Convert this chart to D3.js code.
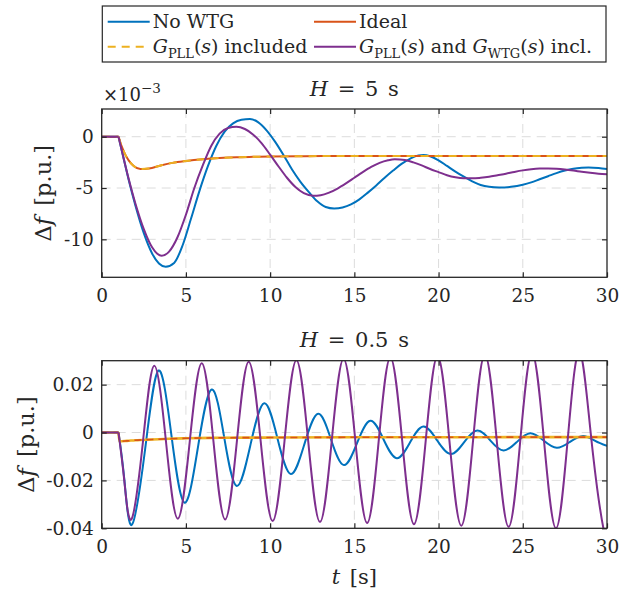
<!DOCTYPE html>
<html><head><meta charset="utf-8">
<script src="https://cdn.jsdelivr.net/npm/d3@7"></script>
<style>
body{margin:0;background:#fff}
svg text{font-family:"DejaVu Serif",serif !important;fill:#262626}
</style>
</head><body>
<svg id="c" width="619" height="593"></svg>
<script>
// ---------- data ----------
const xTicks = [0, 5, 10, 15, 20, 25, 30];
const topYTicks = [0, -5, -10];
const topYTickLabels = ["0", "-5", "-10"];
const botYTicks = [0.02, 0, -0.02, -0.04];
const botYTickLabels = ["0.02", "0", "-0.02", "-0.04"];

// top panel (H = 5 s), values in 1e-3 p.u.
const topNoWTG = [[0,0],[1,0],[1.3,-2.1],[1.6,-4.2],[2.0,-6.7],[2.5,-9.4],[3.0,-11.4],[3.4,-12.35],[3.8,-12.67],[4.3,-12.3],[4.8,-10.6],[5.3,-8.0],[5.8,-5.3],[6.3,-2.9],[6.8,-0.9],[7.3,0.5],[7.8,1.3],[8.3,1.65],[8.8,1.72],[9.3,1.4],[9.8,0.6],[10.3,-0.5],[10.8,-1.8],[11.3,-3.2],[11.8,-4.4],[12.3,-5.4],[12.8,-6.3],[13.3,-6.85],[13.8,-7.0],[14.3,-6.9],[14.8,-6.6],[15.3,-6.1],[15.8,-5.45],[16.3,-4.75],[16.8,-4.0],[17.3,-3.3],[17.8,-2.65],[18.3,-2.15],[18.8,-1.82],[19.1,-1.78],[19.5,-1.9],[20.0,-2.3],[20.5,-2.85],[21.0,-3.4],[21.5,-3.9],[22.0,-4.35],[22.5,-4.7],[23.0,-4.88],[23.6,-4.95],[24.3,-4.88],[25.0,-4.68],[25.5,-4.45],[26.0,-4.15],[26.5,-3.85],[27.0,-3.55],[27.5,-3.3],[28.0,-3.12],[28.5,-3.03],[28.9,-3.0],[29.5,-3.05],[30,-3.15]];
const topIdeal = [[0,0],[1,0],[1.2,-1.0],[1.4,-1.75],[1.6,-2.3],[1.9,-2.85],[2.3,-3.15],[2.8,-3.1],[3.5,-2.8],[4.2,-2.55],[5,-2.37],[6,-2.2],[7,-2.08],[8,-2.0],[9,-1.96],[10,-1.93],[12,-1.9],[15,-1.88],[20,-1.88],[25,-1.88],[30,-1.88]];
const topPLL = [[0,0],[1,0],[1.2,-1.0],[1.4,-1.75],[1.6,-2.3],[1.9,-2.85],[2.3,-3.15],[2.8,-3.1],[3.5,-2.8],[4.2,-2.55],[5,-2.37],[6,-2.2],[7,-2.08],[8,-2.0],[9,-1.96],[10,-1.93],[12,-1.9],[15,-1.88],[20,-1.88],[25,-1.88],[30,-1.88]];
const topPLLWTG = [[0,0],[1,0],[1.3,-2.1],[1.6,-4.1],[2.0,-6.5],[2.5,-9.0],[3.0,-10.8],[3.3,-11.4],[3.56,-11.6],[4.0,-11.2],[4.5,-9.8],[5.0,-7.6],[5.5,-5.0],[6.0,-2.8],[6.5,-0.9],[7.0,0.3],[7.5,0.85],[8.0,0.97],[8.5,0.75],[9.0,0.2],[9.5,-0.65],[10.0,-1.75],[10.5,-2.9],[11.0,-4.0],[11.5,-4.9],[12.0,-5.5],[12.55,-5.75],[13.0,-5.7],[13.5,-5.45],[14.0,-5.05],[14.5,-4.55],[15.0,-4.0],[15.5,-3.45],[16.0,-2.95],[16.5,-2.55],[17.0,-2.3],[17.4,-2.2],[18.0,-2.28],[18.5,-2.5],[19.0,-2.8],[19.5,-3.15],[20.0,-3.45],[20.5,-3.75],[21.0,-3.95],[21.5,-4.05],[22.0,-4.06],[22.5,-4.0],[23.0,-3.9],[23.5,-3.75],[24.0,-3.6],[24.5,-3.43],[25.0,-3.28],[25.5,-3.17],[26.0,-3.11],[26.5,-3.1],[27.0,-3.13],[27.5,-3.2],[28.0,-3.3],[28.5,-3.42],[29.0,-3.52],[29.5,-3.6],[30,-3.65]];

// bottom panel (H = 0.5 s), values in p.u.
const botNoWTG = [[0,0],[1,0],[1.35,-0.020],[1.8,-0.0385],[2.59,-0.0063],[3.38,0.0259],[4.15,-0.0017],[4.92,-0.0293],[5.725,-0.00565],[6.53,0.018],[7.275,-0.00215],[8.02,-0.0223],[8.835,-0.00505],[9.65,0.0122],[10.44,-0.00255],[11.23,-0.0173],[12.04,-0.00475],[12.85,0.0078],[13.615,-0.0029],[14.38,-0.0136],[15.165,-0.00435],[15.95,0.0049],[16.735,-0.0029],[17.52,-0.0107],[18.31,-0.0041],[19.1,0.0025],[19.91,-0.00325],[20.72,-0.009],[21.51,-0.0041],[22.3,0.0008],[23.08,-0.00335],[23.86,-0.0075],[24.655,-0.0039],[25.45,-0.0003],[26.235,-0.00335],[27.02,-0.0064],[27.8,-0.0039],[28.58,-0.0014],[29.3,-0.0035],[30,-0.0056]];
const botIdeal = [[0,0],[1,0],[1.05,-0.0037],[1.5,-0.0035],[2,-0.0032],[3,-0.0029],[4,-0.0026],[5,-0.0024],[7,-0.0022],[10,-0.0021],[15,-0.002],[20,-0.002],[25,-0.0019],[30,-0.0019]];
const botPLL = [[0,0],[1,0],[1.05,-0.0037],[1.5,-0.0035],[2,-0.0032],[3,-0.0029],[4,-0.0026],[5,-0.0024],[7,-0.0022],[10,-0.0021],[15,-0.002],[20,-0.002],[25,-0.0019],[30,-0.0019]];
const botPLLWTG = [[0,0],[1,0],[1.34,-0.020],[1.77,-0.0362],[2.445,-0.00415],[3.12,0.0279],[3.82,-0.00405],[4.52,-0.036],[5.23,-0.00355],[5.94,0.0289],[6.635,-0.0037],[7.33,-0.0363],[8.03,-0.00335],[8.73,0.0296],[9.44,-0.0037],[10.15,-0.037],[10.855,-0.0034],[11.56,0.0302],[12.26,-0.0036],[12.96,-0.0374],[13.66,-0.0033],[14.36,0.0308],[15.06,-0.0035],[15.76,-0.0378],[16.45,-0.0032],[17.14,0.0314],[17.84,-0.00345],[18.54,-0.0383],[19.24,-0.00315],[19.94,0.032],[20.645,-0.00345],[21.35,-0.0389],[22.05,-0.00315],[22.75,0.0326],[23.455,-0.0034],[24.16,-0.0394],[24.855,-0.0031],[25.55,0.0332],[26.26,-0.0034],[26.97,-0.04],[27.665,-0.0031],[28.36,0.0338],[29.08,-0.00335],[29.8,-0.0405],[30,-0.0398]];

// ---------- drawing ----------
const C = {blue:"#0072BD", red:"#D95319", yellow:"#EDB120", purple:"#7E2F8E", axis:"#262626", grid:"#dcdcdc"};
const FONT = '"DejaVu Serif", serif';
const svg = d3.select("#c");
const X0 = 101.7, X1 = 607;
const x = d3.scaleLinear().domain([0, 30]).range([X0, X1]);

function panel(id, top, bottom, ydom, yT, yL, series, oscCurve, titleParts, titleY, ylabX) {
  const y = d3.scaleLinear().domain(ydom).range([bottom, top]);
  const g = svg.append("g");
  svg.append("clipPath").attr("id", "clip" + id).append("rect")
    .attr("x", X0).attr("y", top).attr("width", X1 - X0).attr("height", bottom - top);
  // grid
  g.append("g").selectAll("line").data(xTicks.filter(d => d > 0 && d < 30)).join("line")
    .attr("x1", d => x(d)).attr("x2", d => x(d)).attr("y1", top).attr("y2", bottom)
    .attr("stroke", C.grid).attr("stroke-width", 1).attr("stroke-dasharray", "9,6");
  g.append("g").selectAll("line").data(yT.filter(d => y(d) > top + 1 && y(d) < bottom - 1)).join("line")
    .attr("x1", X0).attr("x2", X1).attr("y1", d => y(d)).attr("y2", d => y(d))
    .attr("stroke", C.grid).attr("stroke-width", 1).attr("stroke-dasharray", "9,6");
  // series
  const lg = g.append("g").attr("clip-path", `url(#clip${id})`);
  series.forEach(s => {
    const pre = s.data.filter(d => d[0] <= 1);
    const post = s.data.filter(d => d[0] >= 1);
    const curve = s.osc ? oscCurve : d3.curveMonotoneX;
    const lineA = d3.line().x(d => x(d[0])).y(d => y(d[1]));
    const lineB = d3.line().x(d => x(d[0])).y(d => y(d[1])).curve(curve);
    [[pre, lineA], [post, lineB]].forEach(([dat, ln]) => {
      lg.append("path").attr("d", ln(dat)).attr("fill", "none")
        .attr("stroke", s.color).attr("stroke-width", s.w || 2)
        .attr("stroke-dasharray", s.dash || null)
        .attr("stroke-linejoin", "round");
    });
  });
  // axes
  const ax = g.append("g").attr("transform", `translate(0,${bottom})`)
    .call(d3.axisBottom(x).tickValues(xTicks).tickSizeInner(-5).tickSizeOuter(0).tickPadding(12).tickFormat(d3.format("d")));
  const axT = g.append("g").attr("transform", `translate(0,${top})`)
    .call(d3.axisTop(x).tickValues(xTicks).tickSizeInner(-5).tickSizeOuter(0).tickFormat(""));
  const ay = g.append("g").attr("transform", `translate(${X0},0)`)
    .call(d3.axisLeft(y).tickValues(yT).tickSizeInner(-5).tickSizeOuter(0).tickPadding(8).tickFormat((d, i) => yL[i]));
  const ayR = g.append("g").attr("transform", `translate(${X1},0)`)
    .call(d3.axisRight(y).tickValues(yT).tickSizeInner(-5).tickSizeOuter(0).tickFormat(""));
  [ax, axT, ay, ayR].forEach(a => {
    a.attr("font-family", FONT);
    a.select(".domain").remove();
    a.selectAll("line").attr("stroke", C.axis).attr("stroke-width", 1.2);
    a.selectAll("text").attr("font-size", 18.5).attr("fill", C.axis);
  });
  g.append("rect").attr("x", X0).attr("y", top).attr("width", X1 - X0).attr("height", bottom - top)
    .attr("fill", "none").attr("stroke", C.axis).attr("stroke-width", 1.3);
  // title
  const t = g.append("text").attr("x", (X0 + X1) / 2).attr("y", titleY)
    .attr("text-anchor", "middle").attr("font-size", 21).attr("word-spacing", 3);
  titleParts.forEach(p => t.append("tspan").text(p[0]).attr("font-style", p[1] ? "italic" : null));
  // y label
  const yl = g.append("text").attr("transform", `translate(${ylabX},${(top + bottom) / 2}) rotate(-90)`)
    .attr("text-anchor", "middle").attr("font-size", 22.5).attr("word-spacing", 4);
  yl.append("tspan").text("\u0394");
  yl.append("tspan").text("f").attr("font-style", "italic");
  yl.append("tspan").text(" [p.u.]");
  return y;
}

panel("top", 109, 277.3, [-13.7, 2.7], topYTicks, topYTickLabels, [
  {data: topNoWTG, color: C.blue},
  {data: topIdeal, color: C.red},
  {data: topPLL, color: C.yellow, dash: "8,6"},
  {data: topPLLWTG, color: C.purple}
], d3.curveMonotoneX, [["H", true], [" = 5 s", false]], 96, 51);

panel("bot", 360.7, 528.3, [-0.04, 0.03], botYTicks, botYTickLabels, [
  {data: botNoWTG, color: C.blue, osc: true},
  {data: botPLL, color: C.yellow, w: 2.6},
  {data: botIdeal, color: C.red, dash: "7,5", w: 1.6},
  {data: botPLLWTG, color: C.purple, osc: true}
], d3.curveNatural, [["H", true], [" = 0.5 s", false]], 347, 34);

// exponent label
const ex = svg.append("text").attr("x", 103).attr("y", 101).attr("font-size", 18);
ex.append("tspan").text("\u00D710");
ex.append("tspan").text("\u22123").attr("font-size", 13.5).attr("dy", -8);

// x label
const xl = svg.append("text").attr("x", (X0 + X1) / 2).attr("y", 584).attr("text-anchor", "middle").attr("font-size", 21).attr("word-spacing", 3);
xl.append("tspan").text("t").attr("font-style", "italic");
xl.append("tspan").text(" [s]");

// legend
const leg = svg.append("g");
leg.append("rect").attr("x", 102.3).attr("y", 6).attr("width", 606 - 102.3).attr("height", 56)
  .attr("fill", "#fff").attr("stroke", C.axis).attr("stroke-width", 1.2);
const legItems = [
  {col: 0, row: 0, color: C.blue, parts: [["No WTG", 0]]},
  {col: 1, row: 0, color: C.red, parts: [["Ideal", 0]]},
  {col: 0, row: 1, color: C.yellow, dash: "8,6", parts: [["G", 1], ["PLL", 2], ["(", 0], ["s", 1], [") included", 0]]},
  {col: 1, row: 1, color: C.purple, parts: [["G", 1], ["PLL", 2], ["(", 0], ["s", 1], [") and ", 0], ["G", 1], ["WTG", 2], ["(", 0], ["s", 1], [") incl.", 0]]}
];
const colX = [107.7, 314], rowY = [21.7, 46.7];
legItems.forEach(it => {
  const lx = colX[it.col], ly = rowY[it.row];
  leg.append("line").attr("x1", lx).attr("x2", lx + 42).attr("y1", ly).attr("y2", ly)
    .attr("stroke", it.color).attr("stroke-width", 2).attr("stroke-dasharray", it.dash || null);
  const tx = leg.append("text").attr("x", lx + 45).attr("y", ly + 6).attr("font-size", 19);
  let sub = false;
  it.parts.forEach(p => {
    const ts = tx.append("tspan").text(p[0]);
    if (p[1] === 1) ts.attr("font-style", "italic");
    if (p[1] === 2) { ts.attr("font-size", 13).attr("dy", 5); sub = true; }
    else if (sub) { ts.attr("dy", -5); sub = false; }
  });
});
</script>
</body></html>
